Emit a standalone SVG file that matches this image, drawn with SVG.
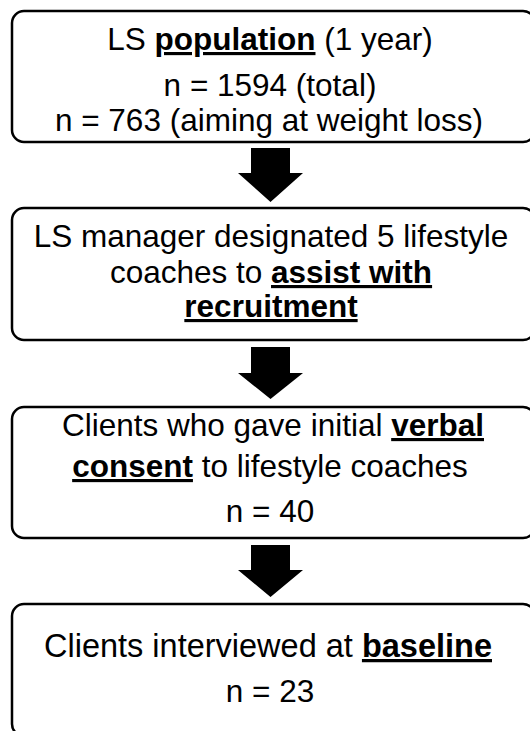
<svg xmlns="http://www.w3.org/2000/svg" width="530" height="731" viewBox="0 0 530 731">
  <style>
    .box { fill: #ffffff; stroke: #000000; stroke-width: 2.5; }
    .lbl { font-family: "Liberation Sans", Arial, sans-serif; font-size: 31.5px; fill: #000000; text-anchor: middle; }
    .em { font-weight: bold; text-decoration: underline; }
    .arrow { fill: #000000; stroke: none; }
  </style>
  <rect width="530" height="731" fill="#ffffff"/>

  <!-- block arrows between the stages -->
  <g id="connectors">
    <polygon class="arrow" points="251,148 290,148 290,173 303,173 270.5,202 238,173 251,173"/>
    <polygon class="arrow" points="251,347 290,347 290,373 303,373 270.5,399 238,373 251,373"/>
    <polygon class="arrow" points="251,545 290,545 290,570 303,570 270.5,597 238,570 251,570"/>
  </g>

  <g id="population">
    <rect class="box" x="12" y="11" width="523" height="131" rx="12" ry="12"/>
    <text class="lbl" x="270" y="50">LS <tspan class="em">population</tspan> (1 year)</text>
    <text class="lbl" x="270" y="96">n = 1594 (total)</text>
    <text class="lbl" x="269" y="131">n = 763 (aiming at weight loss)</text>
  </g>

  <g id="recruitment">
    <rect class="box" x="12" y="208" width="523" height="132" rx="12" ry="12"/>
    <text class="lbl" x="271" y="247">LS manager designated 5 lifestyle</text>
    <text class="lbl" x="271" y="283">coaches to <tspan class="em">assist with</tspan></text>
    <text class="lbl" x="271" y="317"><tspan class="em">recruitment</tspan></text>
  </g>

  <g id="verbal-consent">
    <rect class="box" x="12" y="407" width="523" height="131" rx="12" ry="12"/>
    <text class="lbl" x="273" y="436">Clients who gave initial <tspan class="em">verbal</tspan></text>
    <text class="lbl" x="270" y="477"><tspan class="em">consent</tspan> to lifestyle coaches</text>
    <text class="lbl" x="270" y="522">n = 40</text>
  </g>

  <g id="baseline">
    <rect class="box" x="12" y="604" width="523" height="132" rx="12" ry="12"/>
    <text class="lbl" x="268" y="657" style="font-size:32.5px">Clients interviewed at <tspan class="em">baseline</tspan></text>
    <text class="lbl" x="270" y="702">n = 23</text>
  </g>
</svg>
